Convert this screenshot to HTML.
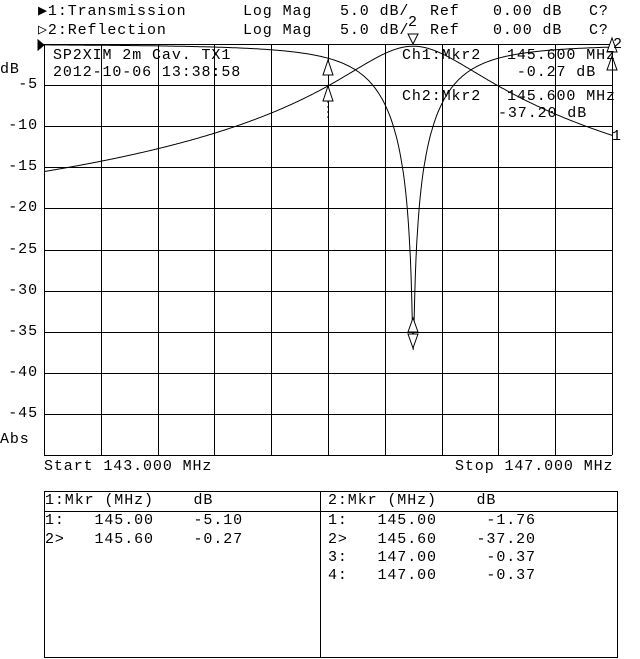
<!DOCTYPE html>
<html><head><meta charset="utf-8"><style>
body{margin:0;background:#fff;width:640px;height:659px;overflow:hidden;position:relative;font-family:"Liberation Mono",monospace;font-size:15px;color:#000}
.t{position:absolute;white-space:pre;line-height:16px;letter-spacing:0.9px}
svg{position:absolute;left:0;top:0}
</style></head><body>
<svg width="640" height="659" id="s">
<g stroke="#000" stroke-width="1" fill="none" id="grid"></g>
<polyline id="tr" fill="none" stroke="#000" stroke-width="1"/>
<polyline id="rf" fill="none" stroke="#000" stroke-width="1"/>
<g stroke="#000" fill="#fff" stroke-width="1">
<polygon points="328,60 323,75 333,75"/>
<polygon points="328,86 323,101 333,101"/>
<polygon points="413,44 408,34 418,34"/>
<polygon points="413,348 408,334 418,334"/>
<polygon points="413,318 408,332 418,332"/>
<polygon points="612,38 607,52 617,52"/>
<polygon points="612,56 607,70 617,70" fill="none"/>
<polygon points="38,40 38,50 44,45" fill="#000"/>
<line x1="328" y1="101" x2="328" y2="118" stroke-dasharray="2,3"/>
</g>
<rect x="44.5" y="491.5" width="573" height="166" fill="none" stroke="#000"/>
<line x1="320.5" y1="491" x2="320.5" y2="658" stroke="#000"/>
<line x1="44" y1="511.5" x2="618" y2="511.5" stroke="#000"/>
</svg>
<div class="t" style="left:38px;top:4px">▶1:Transmission</div>
<div class="t" style="left:38px;top:23px">▷2:Reflection</div>
<div class="t" style="left:243px;top:4px">Log Mag</div>
<div class="t" style="left:243px;top:23px">Log Mag</div>
<div class="t" style="left:340px;top:4px">5.0 dB/</div>
<div class="t" style="left:340px;top:23px">5.0 dB/</div>
<div class="t" style="left:430px;top:4px">Ref</div>
<div class="t" style="left:430px;top:23px">Ref</div>
<div class="t" style="left:493px;top:4px">0.00 dB</div>
<div class="t" style="left:493px;top:23px">0.00 dB</div>
<div class="t" style="left:589px;top:4px">C?</div>
<div class="t" style="left:589px;top:23px">C?</div>
<div class="t" style="left:408px;top:15px">2</div>
<div class="t" style="left:613px;top:37px">2</div>
<div class="t" style="left:612px;top:129px">1</div>
<div class="t" style="left:53px;top:48px">SP2XIM 2m Cav. TX1</div>
<div class="t" style="left:53px;top:65px">2012-10-06 13:38:58</div>
<div class="t" style="left:402px;top:48px">Ch1:Mkr2</div>
<div class="t" style="left:507px;top:48px">145.600 MHz</div>
<div class="t" style="left:507px;top:65px"> -0.27 dB</div>
<div class="t" style="left:402px;top:89px">Ch2:Mkr2</div>
<div class="t" style="left:507px;top:89px">145.600 MHz</div>
<div class="t" style="left:498px;top:106px">-37.20 dB</div>
<div class="t" style="left:0px;top:62px">dB</div>
<div class="t" style="left:0px;top:432px">Abs</div>
<div id="yl"></div>
<div class="t" style="left:44px;top:459px">Start 143.000 MHz</div>
<div class="t" style="left:455px;top:459px">Stop 147.000 MHz</div>
<div class="t" style="left:45px;top:493px">1:Mkr (MHz)    dB</div>
<div class="t" style="left:45px;top:513px">1:   145.00    -5.10</div>
<div class="t" style="left:45px;top:532px">2>   145.60    -0.27</div>
<div class="t" style="left:328px;top:493px">2:Mkr (MHz)    dB</div>
<div class="t" style="left:328px;top:513px">1:   145.00     -1.76</div>
<div class="t" style="left:328px;top:532px">2>   145.60    -37.20</div>
<div class="t" style="left:328px;top:550px">3:   147.00     -0.37</div>
<div class="t" style="left:328px;top:568px">4:   147.00     -0.37</div>
<script>
var g=document.getElementById('grid'),h='';
var X0=44,X1=612,Y0=44,Y1=455;
for(var i=0;i<=10;i++){var x=Math.round(X0+(X1-X0)*i/10)+.5;h+='<line x1="'+x+'" y1="'+Y0+'" x2="'+x+'" y2="'+Y1+'"/>';
var y=Math.round(Y0+(Y1-Y0)*i/10)+.5;h+='<line x1="'+X0+'" y1="'+y+'" x2="'+X1+'" y2="'+y+'"/>';}
g.innerHTML=h;
var yl='';for(var k=1;k<=9;k++){var y=Y0+(Y1-Y0)*k/10-8;yl+='<div class="t" style="right:602px;top:'+y+'px">-'+(5*k)+'</div>';}
document.getElementById('yl').innerHTML=yl;
var tp=[],rp=[];
for(var f=143;f<=147.0001;f+=0.005){
 var d=(f-145.6),xx=d/0.6*1.43,x2=xx*xx;
 var xt=xx; if(d<-0.6) xt=xx*(1+0.04*(d+0.6));
 var t=-0.27-10*Math.log10(1+xt*xt);
 var r=10*Math.log10((x2+0.00019)/(1+x2));
 var px=X0+(f-143)/4*(X1-X0);
 var s=(Y1-Y0)/50;
 tp.push(px.toFixed(1)+','+(Y0-t*s).toFixed(1));
 rp.push(px.toFixed(1)+','+(Y0-r*s).toFixed(1));}
document.getElementById('tr').setAttribute('points',tp.join(' '));
document.getElementById('rf').setAttribute('points',rp.join(' '));
</script>
</body></html>
